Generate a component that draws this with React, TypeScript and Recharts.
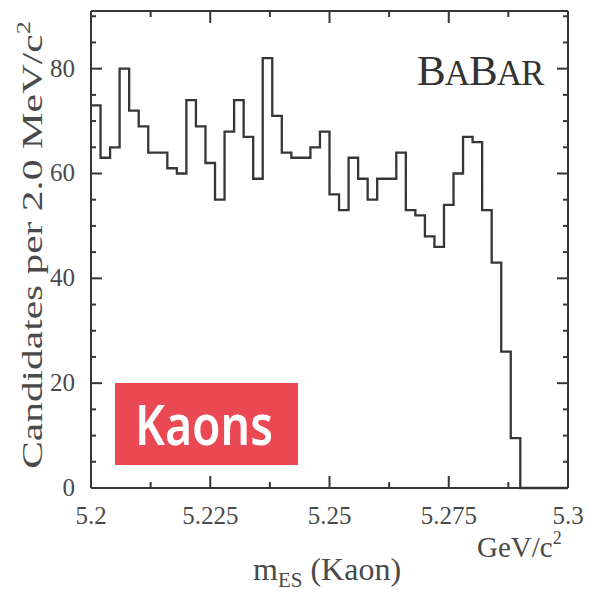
import React from 'react';
import { ComposedChart, Line, XAxis, YAxis } from 'recharts';

// mES histogram, 2 MeV bins from 5.200 to 5.300 GeV/c^2
const BIN_START = 5.2;
const BIN_WIDTH = 0.002;
const counts = [
  73, 63, 65, 80, 72, 69, 64, 64, 61, 60,
  74, 69, 62, 55, 68, 74, 67, 59, 82, 71,
  64, 63, 63, 65, 68, 56, 53, 63, 59, 55,
  59, 59, 64, 53, 52, 48, 46, 54, 60, 67,
  66, 53, 43, 26, 9.5, 0, 0, 0, 0, 0,
];

const xTicks = [5.2, 5.2125, 5.225, 5.2375, 5.25, 5.2625, 5.275, 5.2875, 5.3];
const xLabels = ['5.2', '5.225', '5.25', '5.275', '5.3'];
const yTicks = [0, 5, 10, 15, 20, 25, 30, 35, 40, 45, 50, 55, 60, 65, 70, 75, 80, 85, 90];
const yLabels = [0, 20, 40, 60, 80];

const data = counts
  .map((n, i) => ({ m: BIN_START + i * BIN_WIDTH, n }))
  .concat([{ m: BIN_START + counts.length * BIN_WIDTH, n: 0 }]);

const INK = '#363636';
const TXT = '#4a4a4a';
const SERIF = '"Liberation Serif", "Times New Roman", serif';

function xLabelFor(v: number) {
  const i = xTicks.indexOf(v);
  if (i % 2 !== 0) return null;
  return xLabels[i / 2];
}

function BottomTick(props: any) {
  const { x, y, payload } = props;
  const label = xLabelFor(payload.value);
  const len = label ? 12 : 6;
  return (
    <g>
      <line x1={x} y1={y} x2={x} y2={y - len} stroke={INK} strokeWidth={2} />
      {label && (
        <text x={x} y={y + 36} textAnchor="middle" fontFamily={SERIF} fontSize={25} fill={TXT}>
          {label}
        </text>
      )}
    </g>
  );
}

function TopTick(props: any) {
  const { x, y, payload } = props;
  const len = xLabelFor(payload.value) ? 12 : 6;
  return <line x1={x} y1={y} x2={x} y2={y + len} stroke={INK} strokeWidth={2} />;
}

function LeftTick(props: any) {
  const { x, y, payload } = props;
  const major = yLabels.includes(payload.value);
  return (
    <g>
      <line x1={x} y1={y} x2={x + (major ? 11 : 5)} y2={y} stroke={INK} strokeWidth={2} />
      {major && (
        <text x={x - 16} y={y + 8} textAnchor="end" fontFamily={SERIF} fontSize={25} fill={TXT}>
          {payload.value}
        </text>
      )}
    </g>
  );
}

function RightTick(props: any) {
  const { x, y, payload } = props;
  const major = yLabels.includes(payload.value);
  return <line x1={x} y1={y} x2={x - (major ? 11 : 5)} y2={y} stroke={INK} strokeWidth={2} />;
}

export default function App() {
  return (
    <div style={{ position: 'absolute', left: 0, top: 0, width: 597, height: 602, background: '#fff' }}>
      <ComposedChart
        width={597}
        height={602}
        data={data}
        margin={{ top: 10, right: 28, bottom: 113, left: 90 }}
      >
        <XAxis
          xAxisId="b"
          dataKey="m"
          type="number"
          domain={[5.2, 5.3]}
          ticks={xTicks}
          interval={0}
          height={1}
          tickSize={0}
          tickMargin={0}
          tickLine={false}
          tick={<BottomTick />}
          axisLine={{ stroke: INK, strokeWidth: 2 }}
        />
        <XAxis
          xAxisId="t"
          dataKey="m"
          orientation="top"
          type="number"
          domain={[5.2, 5.3]}
          ticks={xTicks}
          interval={0}
          height={1}
          tickSize={0}
          tickMargin={0}
          tickLine={false}
          tick={<TopTick />}
          axisLine={{ stroke: INK, strokeWidth: 2 }}
        />
        <YAxis
          yAxisId="l"
          type="number"
          domain={[0, 91]}
          ticks={yTicks}
          interval={0}
          width={1}
          tickSize={0}
          tickMargin={0}
          tickLine={false}
          tick={<LeftTick />}
          axisLine={{ stroke: INK, strokeWidth: 2 }}
        />
        <YAxis
          yAxisId="r"
          orientation="right"
          type="number"
          domain={[0, 91]}
          ticks={yTicks}
          interval={0}
          width={1}
          tickSize={0}
          tickMargin={0}
          tickLine={false}
          tick={<RightTick />}
          axisLine={{ stroke: INK, strokeWidth: 2 }}
        />
        <Line
          xAxisId="b"
          yAxisId="l"
          dataKey="n"
          type="stepAfter"
          stroke={INK}
          strokeWidth={2.3}
          dot={false}
          activeDot={false}
          isAnimationActive={false}
        />
        <Line
          xAxisId="t"
          yAxisId="r"
          dataKey="n"
          type="stepAfter"
          stroke="none"
          dot={false}
          activeDot={false}
          isAnimationActive={false}
        />
      </ComposedChart>
      <svg
        width={597}
        height={602}
        style={{ position: 'absolute', left: 0, top: 0, pointerEvents: 'none' }}
      >
        <text
          transform="translate(42,245) rotate(-90) scale(1.38,1)"
          textAnchor="middle"
          fontFamily={SERIF}
          fontSize={30}
          fill={TXT}
        >
          Candidates per 2.0 MeV/c<tspan fontSize={19} dy={-12}>2</tspan>
        </text>
        <text x={253} y={580} fontFamily={SERIF} fontSize={32} fill={TXT}>
          m<tspan fontSize={21} dy={7}>ES</tspan>
          <tspan dy={-7}> (Kaon)</tspan>
        </text>
        <text x={477} y={557} fontFamily={SERIF} fontSize={29} fill={TXT}>
          GeV/c<tspan fontSize={18} dy={-13}>2</tspan>
        </text>
        <text x={417} y={85} fontFamily={SERIF} fontSize={43} fill="#333" letterSpacing={-1}>
          B<tspan fontSize={35}>A</tspan>B<tspan fontSize={35}>AR</tspan>
        </text>
        <rect x={115} y={383} width={183} height={82} fill="#EA4953" />
        <text
          x={135}
          y={445}
          fontFamily='"Noto Sans", "Open Sans", sans-serif'
          fontWeight={600}
          fontSize={56}
          fill="#fff"
          textLength={138}
          lengthAdjust="spacingAndGlyphs"
        >
          Kaons
        </text>
      </svg>
    </div>
  );
}
